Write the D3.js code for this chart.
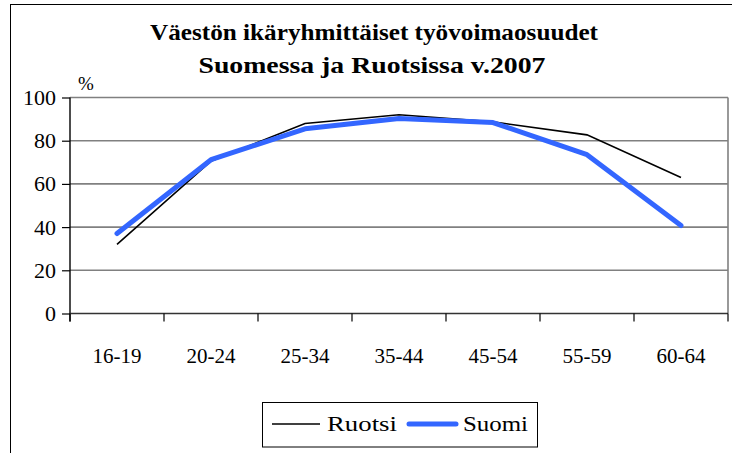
<!DOCTYPE html>
<html><head><meta charset="utf-8">
<script src="https://cdn.jsdelivr.net/npm/d3@7/dist/d3.min.js"></script>
<style>
body{margin:0;background:#fff}
svg{display:block}
</style>
</head><body>
<svg id="c" width="732" height="453"></svg>
<script>
const categories = ["16-19","20-24","25-34","35-44","45-54","55-59","60-64"];
const ruotsi = [32, 70.5, 88, 92, 88.7, 82.7, 63];
const suomi  = [37, 71.2, 85.5, 90.3, 88.4, 73.5, 40.7];
const yTicks = [0, 20, 40, 60, 80, 100];
const titleLines = ["Väestön ikäryhmittäiset työvoimaosuudet", "Suomessa ja Ruotsissa v.2007"];
const seriesNames = ["Ruotsi", "Suomi"];

const svg = d3.select("#c");
const L = 70, R = 728, T = 97.5, B = 313.5;

function label(txt, x, base, size, anchor, bold, width) {
  const t = svg.append("text").attr("x", x).attr("y", base)
    .attr("text-anchor", anchor).attr("fill", "#000")
    .attr("font-family", "Times New Roman")
    .style("font-family", "'Times New Roman'", "important")
    .style("font-size", size + "px", "important")
    .style("font-weight", bold ? "bold" : "normal", "important")
    .text(txt);
  if (width) t.attr("textLength", width).attr("lengthAdjust", "spacingAndGlyphs");
  return t;
}

svg.append("rect").attr("x", 10.5).attr("y", 4.5).attr("width", 740).attr("height", 460)
  .attr("fill", "none").attr("stroke", "#000").attr("stroke-width", 1);

const x = d3.scaleBand().domain(categories).range([L, R]);
const y = d3.scaleLinear().domain([0, 100]).range([B, T]);

svg.append("g").selectAll("line").data(yTicks.filter(d => d > 0)).join("line")
  .attr("x1", L).attr("x2", R).attr("y1", d => y(d)).attr("y2", d => y(d))
  .attr("stroke", "#808080").attr("stroke-width", 1.6);
svg.append("line").attr("x1", R).attr("x2", R).attr("y1", T).attr("y2", B)
  .attr("stroke", "#808080").attr("stroke-width", 1.6);

const yAxis = svg.append("g").attr("transform", `translate(${L},0)`)
  .call(d3.axisLeft(y).tickValues(yTicks).tickSize(8).tickFormat(""));
yAxis.select(".domain").remove();
yAxis.selectAll(".tick line").attr("stroke", "#000").attr("stroke-width", 1.2);
yTicks.forEach(t => label(String(t), 56, y(t) + 7.5, 22, "end", false));
svg.append("line").attr("x1", L).attr("x2", L).attr("y1", T).attr("y2", B + 8)
  .attr("stroke", "#000").attr("stroke-width", 1.4);

svg.append("line").attr("x1", L).attr("x2", R).attr("y1", B).attr("y2", B)
  .attr("stroke", "#333").attr("stroke-width", 1.6);
const bounds = categories.map(c => x(c)).concat([R]);
svg.append("g").selectAll("line").data(bounds).join("line")
  .attr("x1", d => d).attr("x2", d => d).attr("y1", B).attr("y2", B + 8)
  .attr("stroke", "#000").attr("stroke-width", 1.2);
categories.forEach(c => label(c, x(c) + x.bandwidth() / 2, 363, 21, "middle", false));

const cx = c => x(c) + x.bandwidth() / 2;
const line = d3.line().x((d, i) => cx(categories[i])).y(d => y(d));
svg.append("path").datum(ruotsi).attr("d", line).attr("fill", "none")
  .attr("stroke", "#000").attr("stroke-width", 1.6);
svg.append("path").datum(suomi).attr("d", line).attr("fill", "none")
  .attr("stroke", "#3366FF").attr("stroke-width", 5).attr("stroke-linecap", "round").attr("stroke-linejoin", "round");

label(titleLines[0], 374, 40, 24, "middle", true, 448);
label(titleLines[1], 372, 73, 24, "middle", true, 347);
label("%", 86, 90, 19, "middle", false);

svg.append("rect").attr("x", 262.5).attr("y", 402.5).attr("width", 275).attr("height", 44.5)
  .attr("fill", "#fff").attr("stroke", "#000").attr("stroke-width", 1);
svg.append("line").attr("x1", 272).attr("x2", 320).attr("y1", 424).attr("y2", 424)
  .attr("stroke", "#000").attr("stroke-width", 1.6);
label(seriesNames[0], 327, 431, 22, "start", false, 70);
svg.append("line").attr("x1", 409).attr("x2", 456).attr("y1", 424).attr("y2", 424)
  .attr("stroke", "#3366FF").attr("stroke-width", 5).attr("stroke-linecap", "round");
label(seriesNames[1], 463, 431, 22, "start", false, 65);
</script>
</body></html>
